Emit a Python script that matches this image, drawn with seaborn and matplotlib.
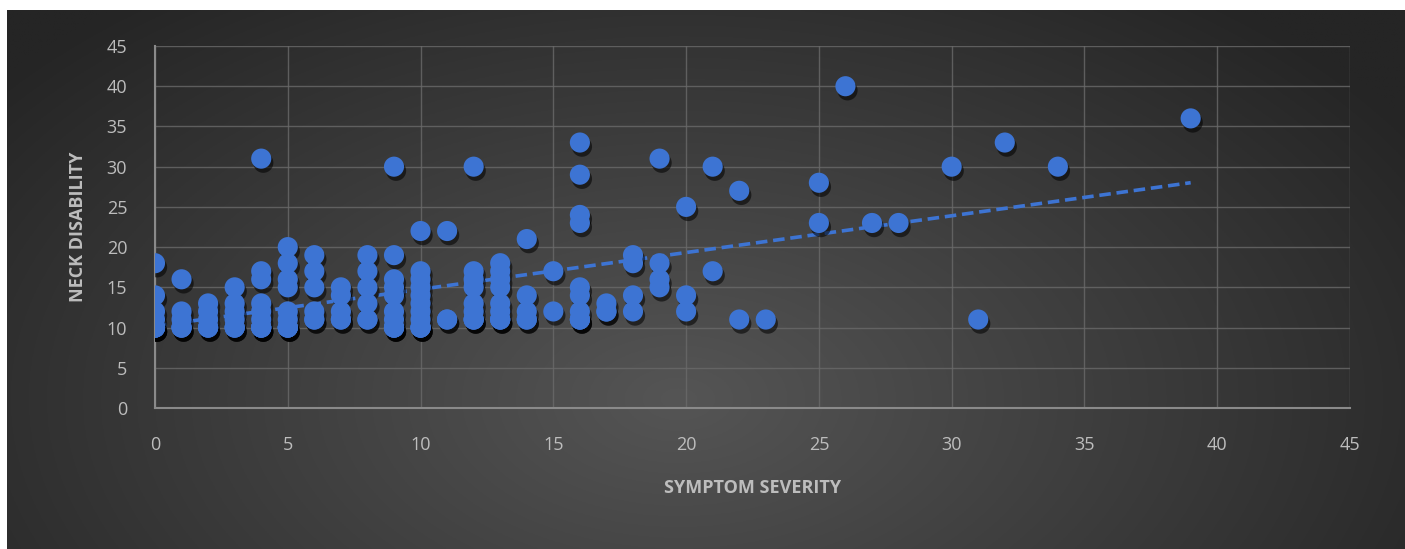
import numpy as np
import pandas as pd
import matplotlib
matplotlib.use("Agg")
import matplotlib.pyplot as plt
import matplotlib.patheffects as pe
import seaborn as sns

# Symptom severity score and the neck disability scores observed at each level
# (repeated scores are listed once per patient)
severity_levels = [0, 1, 2, 3, 4, 5, 6, 7, 8, 9, 10, 11, 12, 13, 14, 15, 16, 17,
                   18, 19, 20, 21, 22, 23, 25, 26, 27, 28, 30, 31, 32, 34, 39]
disability_by_level = [
    [18, 14, 12, 11, 10, 10, 10, 10, 10],
    [16, 12, 11, 10, 10, 10],
    [13, 12, 11, 10, 10, 10],
    [15, 13, 12, 11, 10, 10, 10],
    [31, 17, 16, 13, 12, 11, 10, 10, 10, 10],
    [20, 18, 16, 15, 12, 11, 10, 10, 10, 10],
    [19, 17, 15, 12, 11, 11],
    [15, 14, 12, 11, 11],
    [19, 17, 15, 13, 11, 11],
    [30, 19, 16, 15, 14, 12, 11, 10, 10, 10, 10],
    [22, 17, 16, 15, 14, 13, 12, 11, 10, 10, 10, 10],
    [22, 11, 11],
    [30, 17, 16, 15, 13, 12, 11, 11, 11],
    [18, 17, 16, 15, 13, 12, 11, 11, 11],
    [21, 14, 12, 11, 11],
    [17, 12],
    [33, 29, 24, 23, 15, 14, 12, 11, 11, 11],
    [13, 12, 12],
    [19, 18, 14, 12],
    [31, 18, 16, 15],
    [25, 14, 12],
    [30, 17],
    [27, 11],
    [11],
    [28, 23],
    [40],
    [23],
    [23],
    [30],
    [11],
    [33],
    [30],
    [36],
]

x_ticks = [0, 5, 10, 15, 20, 25, 30, 35, 40, 45]
y_ticks = [0, 5, 10, 15, 20, 25, 30, 35, 40, 45]
x_title = "SYMPTOM SEVERITY"
y_title = "NECK DISABILITY"

rows = [(s, d) for s, vals in zip(severity_levels, disability_by_level) for d in vals]
df = pd.DataFrame(rows, columns=["severity", "disability"])

W, H = 1405, 549
fig = plt.figure(figsize=(W / 100, H / 100), dpi=100, facecolor="white")

# Dark panel with a soft radial highlight
bg = fig.add_axes([7 / W, 0, 1 - 7 / W, (H - 10) / H])
bg.set_axis_off()
ny, nx = 300, 780
yy, xx = np.mgrid[0:ny, 0:nx]
cx, cy = 0.48 * nx, 0.72 * ny
r = np.sqrt(((xx - cx) / (0.62 * nx)) ** 2 + ((yy - cy) / (0.95 * ny)) ** 2)
r = np.clip(r, 0, 1)
lo, hi = np.array([0x25, 0x25, 0x25]) / 255, np.array([0x55, 0x55, 0x55]) / 255
img = hi[None, None, :] * (1 - r[..., None]) + lo[None, None, :] * r[..., None]
bg.imshow(img, aspect="auto", extent=[0, 1, 0, 1], origin="upper")
bg.set_xlim(0, 1)
bg.set_ylim(0, 1)

ax = fig.add_axes([155 / W, (H - 408) / H, (1350 - 155) / W, (408 - 46) / H])
ax.set_facecolor("none")

blue = "#3d74d3"
sns.regplot(data=df, x="severity", y="disability", scatter=False, ci=None,
            truncate=True, ax=ax,
            line_kws=dict(color=blue, lw=2.6, ls=(0, (3.2, 1.6)), zorder=2))
sns.scatterplot(data=df, x="severity", y="disability", ax=ax, s=210,
                color=blue, edgecolor="none", zorder=3, legend=False)
ax.collections[-1].set_path_effects([
    pe.SimplePatchShadow(offset=(1.5, -3), shadow_rgbFace="black", alpha=0.55),
    pe.Normal(),
])

ax.set_xlim(0, 45)
ax.set_ylim(0, 45)
ax.set_xticks(x_ticks)
ax.set_yticks(y_ticks)
ax.grid(True, color="#6a6a6a", lw=1.0, alpha=0.8, zorder=0)
ax.set_axisbelow(True)
for side in ("top", "right"):
    ax.spines[side].set_visible(False)
for side in ("left", "bottom"):
    ax.spines[side].set_color("#8a8a8a")
    ax.spines[side].set_linewidth(1.5)

font = "Open Sans"
ax.tick_params(axis="both", length=0, colors="#bdbdbd", labelsize=13)
ax.tick_params(axis="x", pad=20)
ax.tick_params(axis="y", pad=20)
for lab in ax.get_xticklabels() + ax.get_yticklabels():
    lab.set_fontfamily(font)

ax.set_xlabel(x_title, fontsize=13, fontweight="bold", color="#bdbdbd",
              family=font, labelpad=18)
ax.set_ylabel(y_title, fontsize=13, fontweight="bold", color="#bdbdbd",
              family=font, labelpad=14)

fig.savefig("out.png", dpi=100, facecolor="white")
